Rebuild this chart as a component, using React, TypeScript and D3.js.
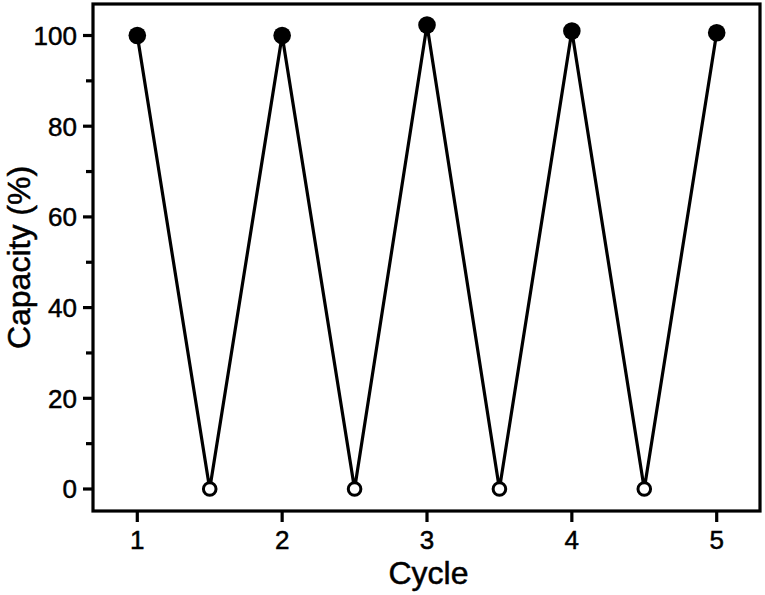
import React from "react";
import * as d3 from "d3";

const chargedCycles = [1, 2, 3, 4, 5];
const chargedCapacity = [100, 100, 102.3, 101.0, 100.6];
const dischargedCycles = [1.5, 2.5, 3.5, 4.5];
const dischargedCapacity = [0, 0, 0, 0];
const xTicks = [1, 2, 3, 4, 5];
const yTicks = [0, 20, 40, 60, 80, 100];
const yMinorTicks = [10, 30, 50, 70, 90];

const W = 765;
const H = 595;
const left = 93;
const right = 760;
const top = 4;
const bottom = 511;

export default function App() {
  const x = d3.scaleLinear().domain([1, 5]).range([137.3, 716.7]);
  const y = d3.scaleLinear().domain([0, 100]).range([489, 35.5]);

  const pts: { c: number; v: number; filled: boolean }[] = [];
  chargedCycles.forEach((c, i) => {
    pts.push({ c, v: chargedCapacity[i], filled: true });
    if (i < dischargedCycles.length)
      pts.push({ c: dischargedCycles[i], v: dischargedCapacity[i], filled: false });
  });
  const line = d3
    .line<{ c: number; v: number }>()
    .x((d) => x(d.c))
    .y((d) => y(d.v));

  const font = "'Liberation Sans', Arial, Helvetica, sans-serif";
  const txt = { stroke: "#000", strokeWidth: 0.5 };

  return (
    <svg
      width={W}
      height={H}
      style={{ position: "absolute", left: 0, top: 0, background: "#fff" }}
      fontFamily={font}
    >
      <path d={line(pts) || ""} fill="none" stroke="#000" strokeWidth={3.2} strokeLinejoin="miter" />
      {pts.map((p, i) =>
        p.filled ? (
          <circle key={i} cx={x(p.c)} cy={y(p.v)} r={8.8} fill="#000" />
        ) : (
          <circle key={i} cx={x(p.c)} cy={y(p.v)} r={6.3} fill="#fff" stroke="#000" strokeWidth={3} />
        )
      )}
      <rect
        x={left}
        y={top}
        width={right - left}
        height={bottom - top}
        fill="none"
        stroke="#000"
        strokeWidth={3.2}
      />
      {yTicks.map((t) => (
        <g key={"y" + t}>
          <line x1={left - 10} x2={left} y1={y(t)} y2={y(t)} stroke="#000" strokeWidth={3.2} />
          <text x={left - 16} y={y(t)} dy="0.36em" textAnchor="end" fontSize={26} {...txt}>
            {t}
          </text>
        </g>
      ))}
      {yMinorTicks.map((t) => (
        <line key={"ym" + t} x1={left - 7} x2={left} y1={y(t)} y2={y(t)} stroke="#000" strokeWidth={3.2} />
      ))}
      {xTicks.map((t) => (
        <g key={"x" + t}>
          <line x1={x(t)} x2={x(t)} y1={bottom} y2={bottom + 11} stroke="#000" strokeWidth={3.2} />
          <text x={x(t)} y={549} textAnchor="middle" fontSize={26} {...txt}>
            {t}
          </text>
        </g>
      ))}
      <text x={(left + right) / 2 + 2} y={584} textAnchor="middle" fontSize={32} {...txt}>
        Cycle
      </text>
      <text
        transform={`translate(30, 257.5) rotate(-90)`}
        textAnchor="middle"
        fontSize={32}
        {...txt}
      >
        Capacity (%)
      </text>
    </svg>
  );
}
